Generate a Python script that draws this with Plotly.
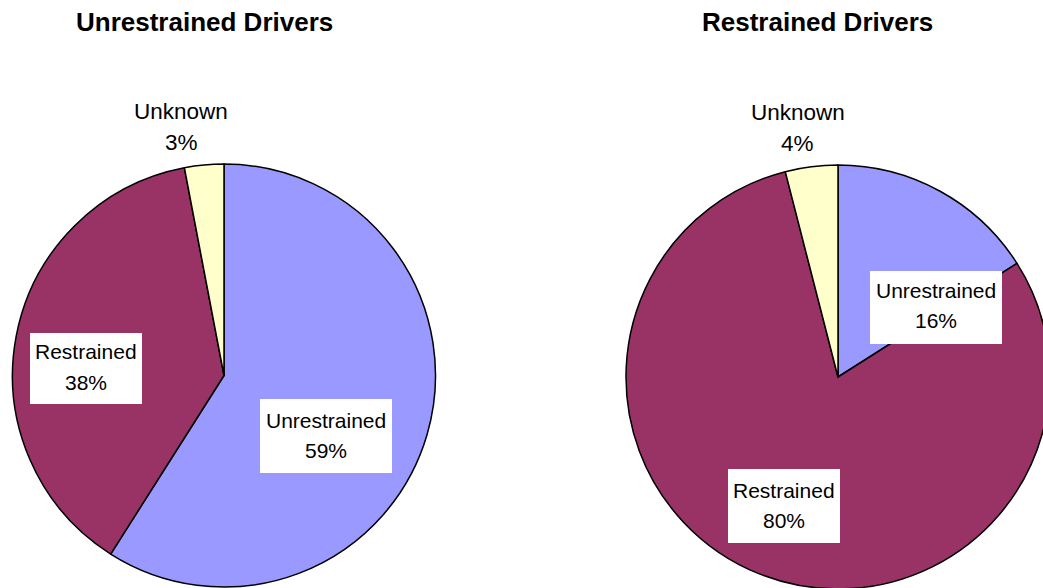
import plotly.graph_objects as go

W, H = 1051, 590
OFF = 0  # body margin removed by post_script

categories = ["Unrestrained", "Restrained", "Unknown"]
colors = ["#9999FF", "#993366", "#FFFFCC"]

titles = ["Unrestrained Drivers", "Restrained Drivers"]
unrestrained_drivers_pct = [59, 38, 3]
restrained_drivers_pct = [16, 80, 4]


def px_x(x):
    return (x - OFF) / W


def px_y(y):
    return 1 - (y - OFF) / H


fig = go.Figure()

# pie domains as screen pixel boxes (left, top, right, bottom)
boxes = [(12, 164, 436, 587), (626, 165, 1050, 589)]
for vals, (l, t, r, b) in zip([unrestrained_drivers_pct, restrained_drivers_pct], boxes):
    fig.add_trace(go.Pie(
        labels=categories,
        values=vals,
        sort=False,
        direction="clockwise",
        rotation=0,
        textinfo="none",
        hoverinfo="label+percent",
        marker=dict(colors=colors, line=dict(color="black", width=1.5)),
        domain=dict(x=[px_x(l), min(px_x(r), 1)], y=[max(px_y(b), 0), px_y(t)]),
        showlegend=False,
    ))

font_family = "Liberation Sans, Arial, sans-serif"
annotations = []
shapes = []

# titles
for title, cx in zip(titles, [204, 817]):
    annotations.append(dict(
        text=f"<b>{title}</b>", x=px_x(cx), y=px_y(22), xref="paper", yref="paper",
        xanchor="center", yanchor="middle", showarrow=False,
        font=dict(family=font_family, size=26, color="black"),
    ))

# labels: (pie index, category index, cx, line1 y, line2 y, font size, box)
label_specs = [
    (0, 2, 181, 110, 141, 22.5, None),
    (0, 1, 86, 350.5, 381, 21, (30, 333, 142, 404)),
    (0, 0, 326, 419.5, 449.5, 21, (260, 399, 392, 473)),
    (1, 2, 797.5, 111.5, 142.5, 22.5, None),
    (1, 0, 936, 289.5, 319.5, 21, (870, 271, 1002, 344)),
    (1, 1, 784, 489.5, 519.5, 21, (728, 469, 840, 543)),
]
all_vals = [unrestrained_drivers_pct, restrained_drivers_pct]
for pi, ci, cx, y1, y2, fs, box in label_specs:
    if box:
        l, t, r, b = box
        shapes.append(dict(
            type="rect", xref="paper", yref="paper",
            x0=px_x(l), x1=px_x(r), y0=px_y(b), y1=px_y(t),
            fillcolor="white", line=dict(width=0), layer="above",
        ))
    for txt, yy in [(categories[ci], y1), (f"{all_vals[pi][ci]}%", y2)]:
        annotations.append(dict(
            text=txt, x=px_x(cx), y=px_y(yy + 1), xref="paper", yref="paper",
            xanchor="center", yanchor="middle", showarrow=False,
            font=dict(family=font_family, size=fs, color="black"),
        ))

fig.update_layout(
    width=W, height=H,
    margin=dict(l=0, r=0, t=0, b=0),
    paper_bgcolor="white",
    plot_bgcolor="white",
    annotations=annotations,
    shapes=shapes,
)

fig.write_html(
    "out.html",
    config={"displayModeBar": False},
    post_script=(
        "document.body.style.margin='0';"
        "document.documentElement.style.overflow='hidden';"
        "document.body.style.overflow='hidden';"
    ),
)
